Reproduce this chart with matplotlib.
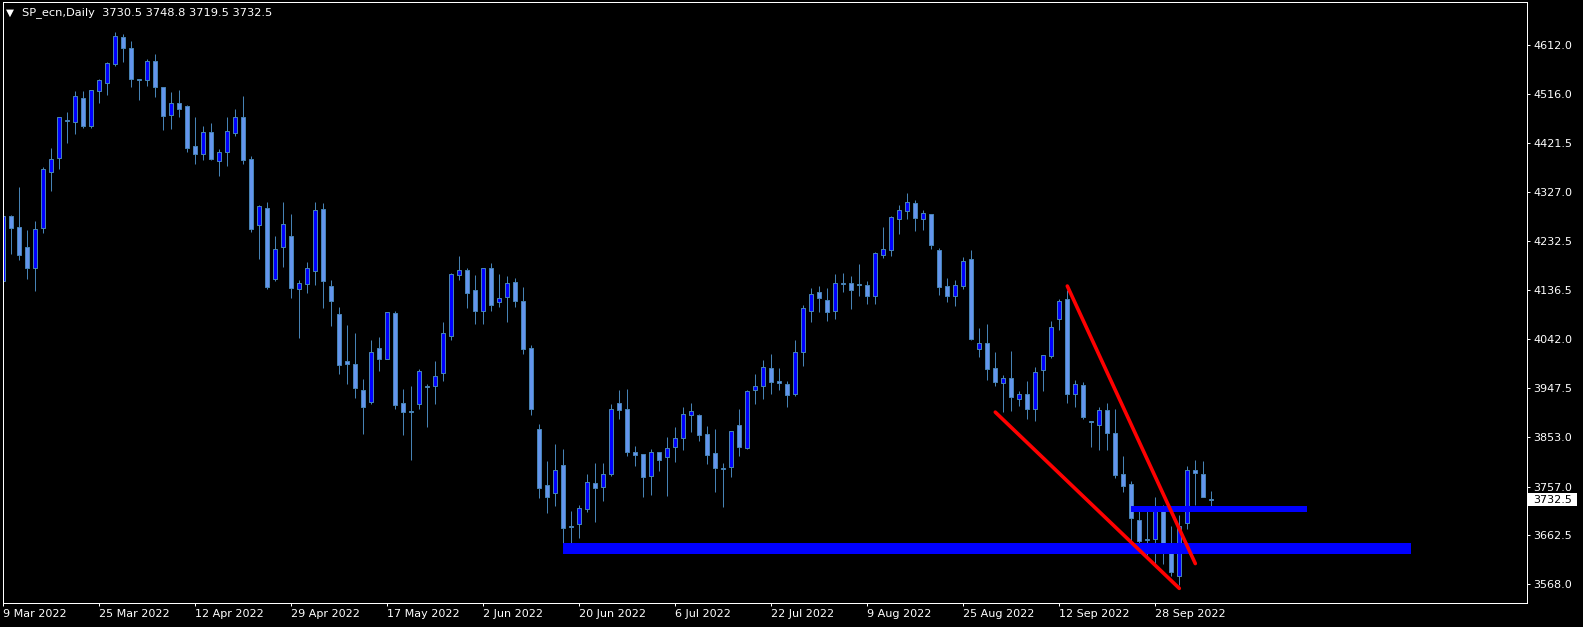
import numpy as np
import matplotlib
matplotlib.use("Agg")
import matplotlib.pyplot as plt
from matplotlib.patches import Rectangle
from matplotlib.transforms import blended_transform_factory

# daily OHLC, bar 0 = 9 Mar 2022
opens = [4155, 4281, 4259, 4221, 4179, 4258, 4366, 4392, 4465, 4463,
         4508, 4455, 4523, 4538, 4574, 4626, 4605, 4546, 4543, 4580,
         4530, 4475, 4499, 4493, 4416, 4400, 4443, 4386, 4405, 4442,
         4472, 4391, 4263, 4296, 4158, 4220, 4242, 4140, 4149, 4175,
         4294, 4146, 4091, 4000, 3994, 3944, 3921, 4025, 4003, 4093,
         3919, 3903, 3916, 3951, 3952, 3976, 4049, 4166, 4177, 4137,
         4097, 4179, 4115, 4123, 4152, 4116, 4025, 3868, 3760, 3744,
         3799, 3680, 3684, 3713, 3763, 3757, 3782, 3919, 3907, 3824,
         3820, 3778, 3823, 3815, 3834, 3850, 3895, 3895, 3859, 3822,
         3792, 3794, 3876, 3832, 3943, 3952, 3986, 3961, 3956, 3937,
         4018, 4096, 4134, 4118, 4096, 4148, 4151, 4148, 4147, 4126,
         4206, 4214, 4274, 4290, 4306, 4274, 4284, 4215, 4145, 4125,
         4146, 4197, 4024, 4035, 3986, 3958, 3968, 3927, 3936, 3907,
         3982, 4010, 4082, 4120, 3936, 3954, 3883, 3876, 3905, 3861,
         3781, 3762, 3692, 3655, 3655, 3717, 3644, 3583, 3686, 3789,
         3781, 3730.5]
highs = [4300, 4283, 4337, 4253, 4270, 4376, 4413, 4473, 4481, 4522,
         4522, 4524, 4545, 4578, 4636, 4633, 4619, 4546, 4584, 4594,
         4530, 4520, 4524, 4495, 4472, 4455, 4460, 4410, 4472, 4487,
         4512, 4397, 4302, 4308, 4242, 4308, 4285, 4156, 4192, 4308,
         4306, 4156, 4104, 4070, 4055, 3965, 4040, 4046, 4094, 4097,
         3946, 3952, 3985, 3956, 4000, 4075, 4171, 4203, 4179, 4166,
         4179, 4190, 4168, 4164, 4160, 4144, 4030, 3878, 3807, 3839,
         3830, 3710, 3721, 3781, 3803, 3803, 3917, 3944, 3946, 3836,
         3820, 3830, 3823, 3853, 3872, 3911, 3919, 3897, 3874, 3868,
         3803, 3864, 3907, 3944, 3975, 4002, 4014, 3987, 3961, 4041,
         4108, 4141, 4145, 4141, 4168, 4170, 4165, 4188, 4155, 4211,
         4259, 4280, 4302, 4325, 4312, 4292, 4284, 4219, 4161, 4157,
         4201, 4215, 4064, 4072, 4017, 3972, 4019, 3942, 3961, 3988,
         4011, 4077, 4120, 4137, 3963, 3959, 3883, 3911, 3919, 3907,
         3816, 3768, 3718, 3718, 3737, 3721, 3681, 3701, 3797, 3808,
         3807, 3748.8]
lows = [4153, 4207, 4196, 4158, 4136, 4247, 4328, 4372, 4422, 4440,
        4451, 4451, 4499, 4514, 4571, 4578, 4530, 4505, 4532, 4511,
        4447, 4449, 4472, 4405, 4381, 4388, 4388, 4358, 4377, 4436,
        4382, 4249, 4198, 4140, 4154, 4182, 4122, 4045, 4132, 4147,
        4103, 4067, 3974, 3956, 3928, 3858, 3917, 3981, 4003, 3907,
        3857, 3809, 3908, 3873, 3916, 3962, 4041, 4157, 4103, 4072,
        4072, 4097, 4104, 4076, 4105, 4014, 3896, 3734, 3705, 3720,
        3637, 3635, 3658, 3707, 3689, 3730, 3778, 3888, 3817, 3796,
        3736, 3741, 3788, 3739, 3805, 3828, 3863, 3845, 3801, 3747,
        3718, 3776, 3817, 3830, 3917, 3927, 3937, 3943, 3910, 3933,
        3991, 4076, 4094, 4078, 4082, 4134, 4101, 4126, 4111, 4111,
        4200, 4204, 4245, 4275, 4252, 4254, 4217, 4128, 4115, 4107,
        4140, 4041, 4007, 3964, 3952, 3901, 3903, 3913, 3887, 3883,
        3941, 4005, 4060, 3919, 3910, 3887, 3834, 3828, 3827, 3774,
        3747, 3650, 3642, 3625, 3607, 3607, 3583, 3567, 3674, 3721,
        3736, 3719.5]
closes = [4281, 4257, 4205, 4179, 4256, 4371, 4390, 4473, 4466, 4512,
          4455, 4524, 4543, 4576, 4628, 4606, 4546, 4543, 4580, 4530,
          4474, 4499, 4487, 4412, 4400, 4443, 4391, 4404, 4445, 4472,
          4388, 4255, 4300, 4144, 4217, 4265, 4142, 4151, 4180, 4292,
          4155, 4117, 3993, 3995, 3947, 3911, 4017, 4003, 4094, 3915,
          3902, 3902, 3980, 3950, 3970, 4054, 4168, 4177, 4132, 4097,
          4179, 4109, 4121, 4150, 4117, 4024, 3908, 3755, 3737, 3790,
          3676, 3679, 3715, 3765, 3755, 3781, 3908, 3906, 3823, 3819,
          3776, 3823, 3809, 3831, 3850, 3897, 3903, 3857, 3818, 3792,
          3791, 3864, 3834, 3942, 3952, 3988, 3960, 3958, 3935, 4017,
          4102, 4129, 4121, 4094, 4150, 4150, 4138, 4147, 4126, 4208,
          4217, 4278, 4292, 4307, 4277, 4286, 4225, 4144, 4125, 4147,
          4193, 4043, 4034, 3985, 3960, 3967, 3931, 3936, 3908, 3978,
          4011, 4065, 4117, 3937, 3956, 3892, 3882, 3905, 3861, 3780,
          3759, 3697, 3652, 3654, 3715, 3645, 3592, 3681, 3790, 3783,
          3737, 3732.5]

date_ticks = [0, 12, 24, 36, 48, 60, 72, 84, 96, 108, 120, 132, 144]
date_labels = ["9 Mar 2022", "25 Mar 2022", "12 Apr 2022", "29 Apr 2022",
               "17 May 2022", "2 Jun 2022", "20 Jun 2022", "6 Jul 2022",
               "22 Jul 2022", "9 Aug 2022", "25 Aug 2022", "12 Sep 2022",
               "28 Sep 2022"]
price_ticks = [4612.0, 4516.0, 4421.5, 4327.0, 4232.5, 4136.5,
               4042.0, 3947.5, 3853.0, 3757.0, 3662.5, 3568.0]
last_price = 3732.5

# drawn objects: red wedge lines (bar, price) and blue zones (bar span, price span)
red_upper = ([133, 149], [4145, 3608])
red_lower = ([124, 147], [3901, 3560])
zone_long = ([70, 176], [3627, 3648])
zone_short = ([141, 163], [3708, 3720])

W, H = 1583, 627
BG = "black"
WICK = "#4682B4"
BULL = "#0000FF"
BEAR = "#6495ED"
PX = 0.72  # one pixel in points at dpi 100

plt.rcParams["font.family"] = ["DejaVu Sans"]
fig = plt.figure(figsize=(W / 100, H / 100), dpi=100, facecolor=BG)
# frame goes from x=2.5..1526.5, y=1.7..603.3 px
ax = fig.add_axes([2.5 / W, (H - 603.3) / H, 1524 / W, 601.6 / H], facecolor=BG)

o = np.array(opens, dtype=float)
hi = np.array(highs, dtype=float)
lo = np.array(lows, dtype=float)
c = np.array(closes, dtype=float)
x = np.arange(len(o))
up = c >= o

ax.vlines(x, lo, hi, color=WICK, linewidth=PX, zorder=1)
body = np.maximum(np.abs(c - o), 0.8)
ax.bar(x, body, bottom=np.minimum(o, c), width=0.5,
       color=np.where(up, BULL, BEAR), edgecolor=WICK, linewidth=PX, zorder=2)

for xs, ys in (zone_long, zone_short):
    ax.fill_between(xs, ys[0], ys[1], color=BULL, linewidth=0, zorder=3)
for xs, ys in (red_upper, red_lower):
    ax.plot(xs, ys, color="#FF0000", linewidth=2.6, solid_capstyle="round", zorder=4)

ax.set_xlim(-0.1, 190.4)
ax.set_ylim(3531.1, 4695.2)

for s in ax.spines.values():
    s.set_color("white")
    s.set_linewidth(PX)

ax.yaxis.tick_right()
ax.set_yticks(price_ticks)
ax.set_yticklabels([f"{p:.1f}" for p in price_ticks])
ax.tick_params(axis="y", length=2.2, width=PX, color="white", pad=2.7,
               labelsize=8, labelcolor="white")
ax.set_xticks(date_ticks)
ax.set_xticklabels(date_labels, ha="left")
ax.tick_params(axis="x", length=2.4, width=PX, color="white", pad=1.5,
               labelsize=8, labelcolor="white")

# current price marker on the price scale
tr = blended_transform_factory(ax.transAxes, ax.transData)
ax.add_patch(Rectangle((1.0008, last_price - 12.9), 0.03255, 25.7, transform=tr,
                       facecolor="white", edgecolor="none", clip_on=False, zorder=5))
ax.text(1.0045, last_price, f"{last_price:.1f}", transform=tr, fontsize=8,
        color="black", va="center_baseline", ha="left", zorder=6)

# header
fig.text(5.5 / W, 1 - 12.5 / H, "\u25bc", color="white", fontsize=7.5, va="center", ha="left")
fig.text(21.7 / W, 1 - 12.7 / H, "SP_ecn,Daily  3730.5 3748.8 3719.5 3732.5",
         color="white", fontsize=8.2, va="center", ha="left")

fig.savefig("out.png", dpi=100, facecolor=BG)
